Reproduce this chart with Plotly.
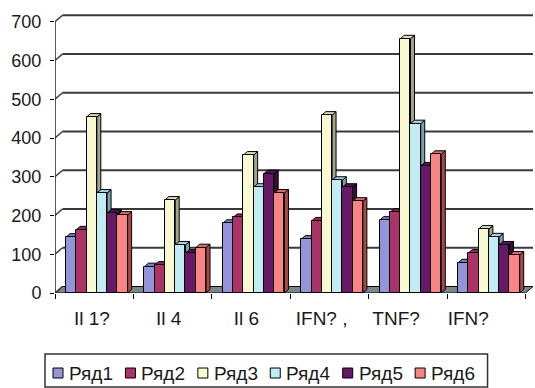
import plotly.graph_objects as go

# ---- data ----
categories = ["Il 1?", "Il 4", "Il 6", "IFN? ,", "TNF?", "IFN?"]
series_names = ["Ряд1", "Ряд2", "Ряд3", "Ряд4", "Ряд5", "Ряд6"]
ryad1 = [144, 68, 180, 139, 188, 78]
ryad2 = [163, 72, 195, 186, 208, 103]
ryad3 = [454, 240, 356, 459, 656, 165]
ryad4 = [258, 124, 273, 291, 437, 145]
ryad5 = [206, 103, 308, 273, 328, 124]
ryad6 = [201, 117, 258, 237, 358, 98]
y_ticks = [0, 100, 200, 300, 400, 500, 600, 700]

series_values = [ryad1, ryad2, ryad3, ryad4, ryad5, ryad6]

# ---- styling ----
front_colors = ["#9494d8", "#aa3468", "#fafad2", "#c2ecf4", "#661a66", "#fa8484"]
top_colors = ["#7b7bbf", "#8e2a56", "#dcdcb2", "#a4d2da", "#531453", "#dc6a6a"]
side_colors = ["#5c5c98", "#6e1e42", "#a4a488", "#7aa4ac", "#3c0c3c", "#a84848"]
FONT = "Liberation Sans, Arial, sans-serif"
TXT = "#1a1a1a"
GRID = "#3a3a3a"

# geometry in axis units
DX, DY = 0.0955, 16.8        # wall / floor depth
BDX, BDY = 0.051, 9.0        # bar depth
W = 0.131                    # bar width
OFF0 = -0.36                 # left edge of first bar relative to category centre
XR = [-0.5, 5.5 + DX]
YR = [0, 720]
label_nudge = [-0.03, -0.05, -0.06, -0.10, -0.15, -0.23]

fig = go.Figure()

# side and top faces of each bar (drawn beneath the front faces)
for k, (name, vals) in enumerate(zip(series_names, series_values)):
    sx, sy, tx, ty = [], [], [], []
    for i, v in enumerate(vals):
        xl = i + OFF0 + k * W
        xr = xl + W
        sx += [xr, xr + BDX, xr + BDX, xr, xr, None]
        sy += [0, BDY, v + BDY, v, 0, None]
        tx += [xl, xl + BDX, xr + BDX, xr, xl, None]
        ty += [v, v + BDY, v + BDY, v, v, None]
    fig.add_trace(go.Scatter(x=sx, y=sy, mode="lines", fill="toself",
                             fillcolor=side_colors[k], line=dict(color="black", width=1),
                             showlegend=False, hoverinfo="skip"))
    fig.add_trace(go.Scatter(x=tx, y=ty, mode="lines", fill="toself",
                             fillcolor=top_colors[k], line=dict(color="black", width=1),
                             showlegend=False, hoverinfo="skip"))

# front faces as bars on an overlaying axis pair so they sit on top
for k, (name, vals) in enumerate(zip(series_names, series_values)):
    xs = [i + OFF0 + k * W + W / 2 for i in range(len(categories))]
    fig.add_trace(go.Bar(x=xs, y=vals, width=W, name=name,
                         marker=dict(color=front_colors[k], line=dict(color="black", width=1)),
                         xaxis="x2", yaxis="y2", showlegend=False))

shapes = []
# floor
shapes.append(dict(type="path", xref="x", yref="y", layer="below",
                   path=f"M -0.5,0 L 5.5,0 L {5.5 + DX},{DY} L {-0.5 + DX},{DY} Z",
                   fillcolor="#7c858a", line=dict(color="black", width=1)))
# back-wall gridlines and left-wall diagonals
for v in y_ticks:
    if v > 0:
        shapes.append(dict(type="line", xref="x", yref="y", layer="below",
                           x0=-0.5 + DX, x1=5.5 + DX, y0=v + DY, y1=v + DY,
                           line=dict(color=GRID, width=2)))
    shapes.append(dict(type="line", xref="x", yref="y", layer="below",
                       x0=-0.5, x1=-0.5 + DX, y0=v, y1=v + DY,
                       line=dict(color=GRID, width=1.5)))
# value axis line
shapes.append(dict(type="line", xref="x", yref="y", x0=-0.5, x1=-0.5, y0=0, y1=y_ticks[-1],
                   line=dict(color="#222222", width=1.5)))

# legend box drawn by hand (compact Excel-style keys)
PL, PT, PW, PH = 55, 14, 478.5, 279


def px(x):
    return (x - PL) / PW


def py(y):
    return (PT + PH - y) / PH


annotations = []
shapes.append(dict(type="rect", xref="paper", yref="paper",
                   x0=px(45), x1=px(488), y0=py(387), y1=py(354),
                   line=dict(color="#333333", width=1.5), fillcolor="white"))
for k, name in enumerate(series_names):
    x0 = 53 + 72.5 * k
    shapes.append(dict(type="rect", xref="paper", yref="paper",
                       x0=px(x0), x1=px(x0 + 10), y0=py(378), y1=py(368),
                       line=dict(color="black", width=1), fillcolor=front_colors[k]))
    annotations.append(dict(xref="paper", yref="paper", x=px(x0 + 14), y=py(373),
                            text=name, showarrow=False, xanchor="left", yanchor="middle",
                            font=dict(family=FONT, size=19, color=TXT)))

fig.update_layout(
    width=535, height=388,
    margin=dict(l=PL, r=535 - PL - PW, t=PT, b=388 - PT - PH),
    paper_bgcolor="white", plot_bgcolor="white",
    barmode="overlay", bargap=0,
    showlegend=False,
    font=dict(family=FONT, size=18, color=TXT),
    xaxis=dict(range=XR, tickmode="array",
               tickvals=[i + label_nudge[i] for i in range(len(categories))],
               ticktext=categories, ticks="", showgrid=False, zeroline=False, showline=False,
               tickfont=dict(size=19), ticklabelstandoff=12,
               minor=dict(tickmode="array", tickvals=[i - 0.5 for i in range(len(categories) + 1)],
                          ticks="outside", ticklen=5, tickcolor="black", showgrid=False)),
    yaxis=dict(range=YR, tickmode="array", tickvals=y_ticks, ticks="outside", ticklen=4,
               tickcolor="black", showgrid=False, zeroline=False, showline=False,
               tickfont=dict(size=18), ticklabelstandoff=5),
    xaxis2=dict(range=XR, overlaying="x", anchor="y2", visible=False),
    yaxis2=dict(range=YR, overlaying="y", anchor="x2", visible=False),
    shapes=shapes,
    annotations=annotations,
)

fig.write_html("out.html")
